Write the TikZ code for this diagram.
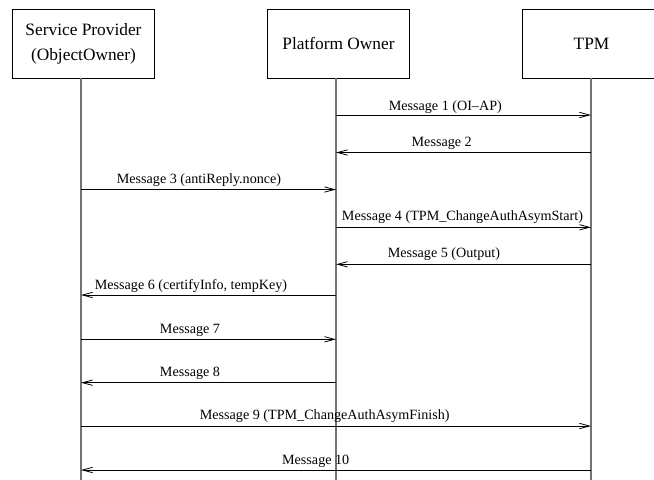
\documentclass[tikz,border=0pt]{standalone}
\usepackage{fontspec}
\setmainfont{Liberation Serif}
\usetikzlibrary{arrows.meta}
\begin{document}
\begin{tikzpicture}[x=0.75pt,y=-0.75pt,
  actor/.style={draw=black, line width=0.6pt, minimum width=107pt,
    minimum height=51.75pt, align=center, inner sep=0pt,
    font=\fontsize{13}{19}\selectfont},
  lifeline/.style={draw=black!55, line width=1.1pt},
  msg/.style={draw=black, line width=0.6pt,
    -{Straight Barb[length=7.5pt,width=4pt]}},
  lbl/.style={anchor=base, inner sep=0pt, font=\fontsize{10.6}{12}\selectfont}]
\useasboundingbox (0,0) rectangle (654,479);
\clip (0,0) rectangle (654,479);

% participants
\node[actor] (sp)  at (83.5,43.5) {Service Provider\\(ObjectOwner)};
\node[actor] (po)  at (338.5,43.5) {Platform Owner};
\node[actor, minimum width=104pt] (tpm) at (591.5,43.5) {TPM};

% lifelines
\coordinate (spT) at (81,78);   \coordinate (spB) at (81,480);
\coordinate (poT) at (336,78);  \coordinate (poB) at (336,480);
\coordinate (tpT) at (591,78);  \coordinate (tpB) at (591,480);
\draw[lifeline] (spT) -- (spB);
\draw[lifeline] (poT) -- (poB);
\draw[lifeline] (tpT) -- (tpB);

% message end points on the lifelines
\foreach \n/\y in {1/115,2/152.5,3/189.5,4/227.3,5/264.3,6/295,7/339.3,8/382.7,9/426,10/470}{
  \coordinate (s\n) at (81,\y);
  \coordinate (p\n) at (336,\y);
  \coordinate (t\n) at (591,\y);
}

% messages
\draw[msg] (p1) -- (t1);
\draw[msg] (t2) -- (p2);
\draw[msg] (s3) -- (p3);
\draw[msg] (p4) -- (t4);
\draw[msg] (t5) -- (p5);
\draw[msg] (p6) -- (s6);
\draw[msg] (s7) -- (p7);
\draw[msg] (p8) -- (s8);
\draw[msg] (s9) -- (t9);
\draw[msg] (t10) -- (s10);

% message labels
\node[lbl] (m1)  at (445.3,110.7) {Message 1 (OI--AP)};
\node[lbl] (m2)  at (441.7,146)   {Message 2};
\node[lbl] (m3)  at (199,183.3)   {Message 3 (antiReply.nonce)};
\node[lbl] (m4)  at (462.5,220.5) {Message 4 (TPM\_ChangeAuthAsymStart)};
\node[lbl] (m5)  at (444,257.5)   {Message 5 (Output)};
\node[lbl] (m6)  at (191,289.5)   {Message 6 (certifyInfo, tempKey)};
\node[lbl] (m7)  at (190,333)     {Message 7};
\node[lbl] (m8)  at (190,376.5)   {Message 8};
\node[lbl] (m9)  at (324.7,419.5) {Message 9 (TPM\_ChangeAuthAsymFinish)};
\node[lbl] (m10) at (315.7,464)   {Message 10};
\end{tikzpicture}
\end{document}
